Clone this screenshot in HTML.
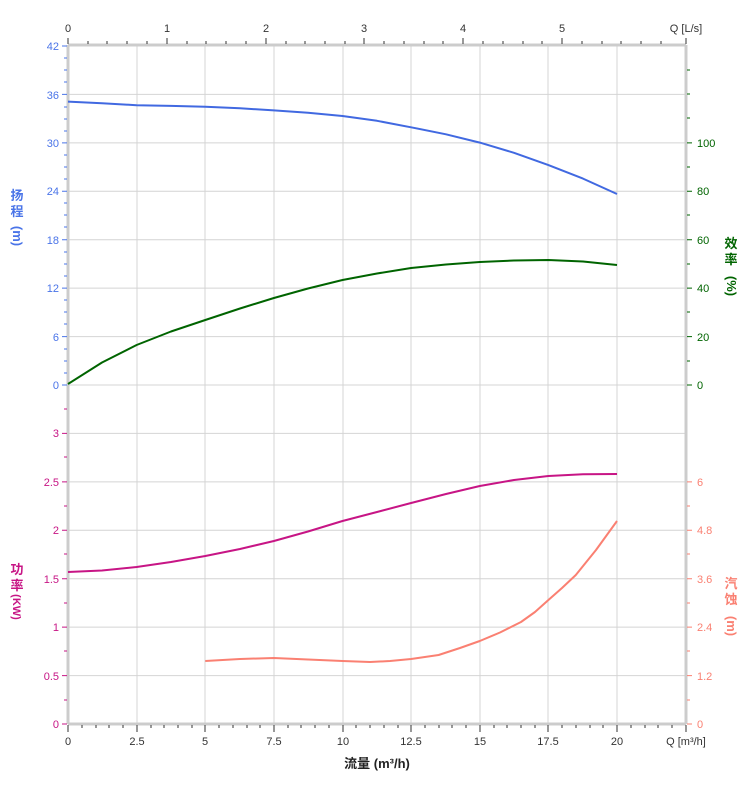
<!DOCTYPE html><html><head><meta charset="utf-8"><style>body{margin:0;background:#fff}svg{display:block;font-family:"Liberation Sans","Noto Sans CJK SC",sans-serif}</style></head><body>
<svg width="752" height="797" viewBox="0 0 752 797" xmlns="http://www.w3.org/2000/svg">
<g stroke="#d4d4d4" stroke-width="1">
<line x1="137" y1="46" x2="137" y2="724"/><line x1="205" y1="46" x2="205" y2="724"/><line x1="274" y1="46" x2="274" y2="724"/><line x1="343" y1="46" x2="343" y2="724"/><line x1="411" y1="46" x2="411" y2="724"/><line x1="480" y1="46" x2="480" y2="724"/><line x1="548" y1="46" x2="548" y2="724"/><line x1="617" y1="46" x2="617" y2="724"/>
<line x1="68" y1="94.4" x2="686" y2="94.4"/><line x1="68" y1="142.9" x2="686" y2="142.9"/><line x1="68" y1="191.3" x2="686" y2="191.3"/><line x1="68" y1="239.7" x2="686" y2="239.7"/><line x1="68" y1="288.1" x2="686" y2="288.1"/><line x1="68" y1="336.6" x2="686" y2="336.6"/><line x1="68" y1="385" x2="686" y2="385"/><line x1="68" y1="433.4" x2="686" y2="433.4"/><line x1="68" y1="481.9" x2="686" y2="481.9"/><line x1="68" y1="530.3" x2="686" y2="530.3"/><line x1="68" y1="578.7" x2="686" y2="578.7"/><line x1="68" y1="627.1" x2="686" y2="627.1"/><line x1="68" y1="675.6" x2="686" y2="675.6"/>
</g>
<g stroke="#ccc" stroke-width="3"><line x1="68" y1="45" x2="686" y2="45"/><line x1="68" y1="724" x2="686" y2="724"/><line x1="68" y1="45" x2="68" y2="724"/><line x1="686" y1="45" x2="686" y2="724"/></g>
<g stroke="#333" stroke-width="1">
<path d="M68 38v6M167 38v6M266 38v6M364 38v6M463 38v6M562 38v6M686 38v6"/>
<path d="M68 725v7M137 725v7M205 725v7M274 725v7M343 725v7M411 725v7M480 725v7M548 725v7M617 725v7M686 725v7"/>
</g>
<g stroke="#333" stroke-width="1"><path d="M88 41v3M107 41v3M127 41v3M147 41v3M187 41v3M206 41v3M226 41v3M246 41v3M286 41v3M305 41v3M325 41v3M345 41v3M384 41v3M404 41v3M424 41v3M443 41v3M483 41v3M503 41v3M523 41v3M542 41v3M582 41v3M602 41v3M621 41v3M641 41v3M661 41v3"/>
<path d="M82 725v3M96 725v3M109 725v3M123 725v3M151 725v3M164 725v3M178 725v3M192 725v3M219 725v3M233 725v3M247 725v3M260 725v3M288 725v3M301 725v3M315 725v3M329 725v3M356 725v3M370 725v3M384 725v3M398 725v3M425 725v3M439 725v3M452 725v3M466 725v3M494 725v3M507 725v3M521 725v3M535 725v3M562 725v3M576 725v3M590 725v3M603 725v3M631 725v3M645 725v3M658 725v3M672 725v3"/></g>
<g font-size="11" fill="#333" text-anchor="middle"><text x="68" y="32">0</text><text x="167" y="32">1</text><text x="266" y="32">2</text><text x="364" y="32">3</text><text x="463" y="32">4</text><text x="562" y="32">5</text><text x="686" y="32">Q [L/s]</text>
<text x="68" y="745">0</text><text x="137" y="745">2.5</text><text x="205" y="745">5</text><text x="274" y="745">7.5</text><text x="343" y="745">10</text><text x="411" y="745">12.5</text><text x="480" y="745">15</text><text x="548" y="745">17.5</text><text x="617" y="745">20</text><text x="686" y="745">Q [m³/h]</text></g>
<g font-size="11" fill="#4a74e8" text-anchor="end"><text x="59" y="50">42</text><text x="59" y="99">36</text><text x="59" y="147">30</text><text x="59" y="195">24</text><text x="59" y="244">18</text><text x="59" y="292">12</text><text x="59" y="341">6</text><text x="59" y="389">0</text></g>
<g stroke="#4a74e8"><path d="M62 46h5M62 94.4h5M62 142.9h5M62 191.3h5M62 239.7h5M62 288.1h5M62 336.6h5M62 385h5M64 58h3M64 70h3M64 82h3M64 107h3M64 119h3M64 131h3M64 155h3M64 167h3M64 179h3M64 203h3M64 215h3M64 227h3M64 252h3M64 264h3M64 276h3M64 300h3M64 312h3M64 324h3M64 349h3M64 361h3M64 373h3"/></g>
<g font-size="11" fill="#c71585" text-anchor="end"><text x="59" y="437">3</text><text x="59" y="486">2.5</text><text x="59" y="534">2</text><text x="59" y="583">1.5</text><text x="59" y="631">1</text><text x="59" y="680">0.5</text><text x="59" y="728">0</text></g>
<g stroke="#c71585"><path d="M62 433.4h5M62 481.9h5M62 530.3h5M62 578.7h5M62 627.1h5M62 675.6h5M62 724h5M64 409h3M64 457h3M64 506h3M64 554h3M64 603h3M64 651h3M64 700h3"/></g>
<g font-size="11" fill="#006400"><text x="697" y="147">100</text><text x="697" y="195">80</text><text x="697" y="244">60</text><text x="697" y="292">40</text><text x="697" y="341">20</text><text x="697" y="389">0</text></g>
<g stroke="#006400"><path d="M687 142.9h5M687 191.3h5M687 239.7h5M687 288.1h5M687 336.6h5M687 385h5M687 167h3M687 215h3M687 264h3M687 312h3M687 361h3M687 118h3M687 94h3M687 70h3"/></g>
<g font-size="11" fill="#fa8072"><text x="697" y="486">6</text><text x="697" y="534">4.8</text><text x="697" y="583">3.6</text><text x="697" y="631">2.4</text><text x="697" y="680">1.2</text><text x="697" y="728">0</text></g>
<g stroke="#fa8072"><path d="M687 481.9h5M687 530.3h5M687 578.7h5M687 627.1h5M687 675.6h5M687 724h5M687 506h3M687 554h3M687 603h3M687 651h3M687 700h3"/></g>
<g font-size="13" font-weight="bold"><text x="17" y="200" fill="#4a74e8" text-anchor="middle">扬</text><text x="17" y="216" fill="#4a74e8" text-anchor="middle">程</text><text x="17" y="240" fill="#4a74e8" text-anchor="middle" transform="rotate(90 17 236)">(m)</text>
<text x="17" y="574" fill="#c71585" text-anchor="middle">功</text><text x="17" y="590" fill="#c71585" text-anchor="middle">率</text><text x="17" y="611" fill="#c71585" text-anchor="middle" font-size="11" transform="rotate(90 17 607)">(KW)</text>
<text x="731" y="248" fill="#006400" text-anchor="middle">效</text><text x="731" y="264" fill="#006400" text-anchor="middle">率</text><text x="731" y="290" fill="#006400" text-anchor="middle" transform="rotate(90 731 286)">(%)</text>
<text x="731" y="588" fill="#fa8072" text-anchor="middle">汽</text><text x="731" y="604" fill="#fa8072" text-anchor="middle">蚀</text><text x="731" y="630" fill="#fa8072" text-anchor="middle" transform="rotate(90 731 626)">(m)</text>
<text x="377" y="768" fill="#222" text-anchor="middle">流量 (m³/h)</text></g>
<g fill="none" stroke-width="2" stroke-linejoin="round">
<polyline stroke="#4169e1" points="68,101.6 102,103.2 136.6,105.2 171,105.9 205.3,106.8 240,108.3 273.9,110.4 308,112.8 342.5,116 377,120.8 411.1,127.3 446,134.3 479.8,142.6 514,152.8 548.4,165.1 583,178.6 617,194"/>
<polyline stroke="#006400" points="68,384 102,362.5 136.6,345 171,331.5 205.3,320 240,308.5 273.9,298 308,288.5 342.5,280 377,273.5 411.1,268 446,264.5 479.8,262 514,260.5 548.4,260 583,261.5 617,265"/>
<polyline stroke="#c71585" points="68,572 102,570.5 136.6,567 171,562 205.3,556 240,549 273.9,541 308,531.5 342.5,521 377,512 411.1,503 446,494 479.8,486 514,480 548.4,476 583,474.2 617,474"/>
<polyline stroke="#fa8072" points="205.3,661 240,659 273.9,658 308,659.5 342.5,661 370,662 390,661 411.1,659 438.6,655 460,648 479.8,641 500,632.5 521,622 535,612 548.4,600 562,588 575.8,575 596,550 617,521"/>
</g>
</svg></body></html>
